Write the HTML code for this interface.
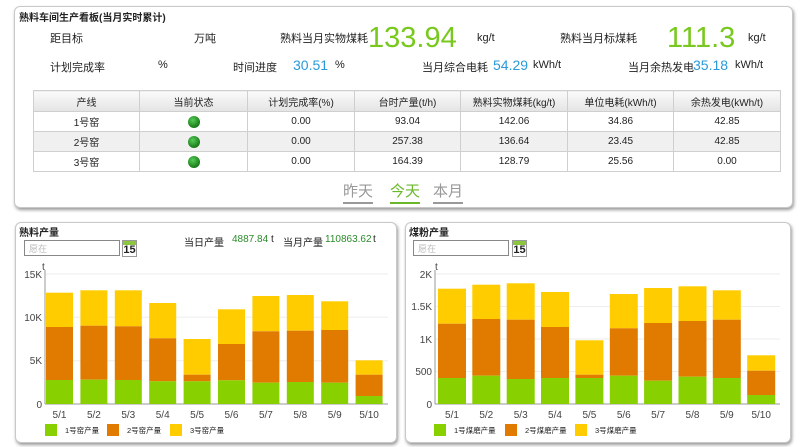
<!DOCTYPE html>
<html><head><meta charset="utf-8"><style>
body{margin:0;width:800px;height:447px;background:#fff;position:relative;overflow:hidden;font-family:"Liberation Sans","Noto Sans CJK SC",sans-serif;font-size:11px;color:#222}
.a{position:absolute;white-space:nowrap}
.panel{position:absolute;border:1px solid #c8c8c8;border-radius:6px;box-shadow:1px 2px 3px #999;background:#fff}
.big{font-size:29px;color:#78c81e}
.blue{color:#2a9ad8;font-size:14px}
table{position:absolute;left:33px;top:90px;width:747px;border-collapse:collapse;font-size:10px;table-layout:fixed}
td,th{border:1px solid #cfcfcf;height:19px;text-align:center;font-weight:normal;padding:0}
th{background:linear-gradient(#fafafa,#e4e4e4);height:20px}
tr.g td{background:#f0f0f0}
.dot{display:inline-block;width:12px;height:12px;border-radius:50%;background:radial-gradient(circle at 40% 35%,#5c5,#1a7a1a 70%);vertical-align:middle}
.tab{font-size:15px;color:#999;border-bottom:2px solid #999;padding-bottom:1px}
.inp{position:absolute;height:16px;border:1px solid #888;color:#bbb;font-size:9px;line-height:16px;padding-left:4px;box-sizing:border-box;width:96px}
.cal{position:absolute;width:15px;height:17px;border:1px solid #999;box-sizing:border-box;background:#fff;font-size:11px;font-weight:bold;text-align:center;line-height:19px}
.cal:before{content:"";position:absolute;left:0;top:0;right:0;height:4px;background:#8cc63f}
.gn{color:#2a8a2a}
.s10{font-size:10px}
</style></head><body>
<div class="panel" style="left:14px;top:6px;width:777px;height:200px"></div>
<div class="a" style="left:19px;top:9px;font-size:10px;font-weight:bold">熟料车间生产看板(当月实时累计)</div>
<div class="a" style="left:50px;top:30px">距目标</div>
<div class="a" style="left:194px;top:30px">万吨</div>
<div class="a" style="left:280px;top:30px">熟料当月实物煤耗</div>
<div class="a big" style="left:368px;top:22px">133.94</div>
<div class="a" style="left:477px;top:32px">kg/t</div>
<div class="a" style="left:560px;top:30px">熟料当月标煤耗</div>
<div class="a big" style="left:667px;top:22px">111.3</div>
<div class="a" style="left:748px;top:32px">kg/t</div>
<div class="a" style="left:50px;top:59px">计划完成率</div>
<div class="a" style="left:158px;top:59px">%</div>
<div class="a" style="left:233px;top:59px">时间进度</div>
<div class="a blue" style="left:293px;top:57px">30.51</div>
<div class="a" style="left:335px;top:59px">%</div>
<div class="a" style="left:422px;top:59px">当月综合电耗</div>
<div class="a blue" style="left:493px;top:57px">54.29</div>
<div class="a" style="left:533px;top:59px">kWh/t</div>
<div class="a" style="left:628px;top:59px">当月余热发电</div>
<div class="a blue" style="left:693px;top:57px">35.18</div>
<div class="a" style="left:735px;top:59px">kWh/t</div>
<table>
<colgroup><col style="width:106px"><col style="width:108px"><col style="width:107px"><col style="width:106px"><col style="width:107px"><col style="width:106px"><col style="width:107px"></colgroup>
<tr><th>产线</th><th>当前状态</th><th>计划完成率(%)</th><th>台时产量(t/h)</th><th>熟料实物煤耗(kg/t)</th><th>单位电耗(kWh/t)</th><th>余热发电(kWh/t)</th></tr>
<tr><td>1号窑</td><td><span class="dot"></span></td><td>0.00</td><td>93.04</td><td>142.06</td><td>34.86</td><td>42.85</td></tr>
<tr class="g"><td>2号窑</td><td><span class="dot"></span></td><td>0.00</td><td>257.38</td><td>136.64</td><td>23.45</td><td>42.85</td></tr>
<tr><td>3号窑</td><td><span class="dot"></span></td><td>0.00</td><td>164.39</td><td>128.79</td><td>25.56</td><td>0.00</td></tr>
</table>
<div class="a tab" style="left:343px;top:180px">昨天</div>
<div class="a tab" style="left:390px;top:180px;color:#6ab82a;border-color:#6ab82a">今天</div>
<div class="a tab" style="left:433px;top:180px">本月</div>

<div class="panel" style="left:15px;top:222px;width:380px;height:219px"></div>
<div class="panel" style="left:405px;top:222px;width:384px;height:219px"></div>
<div class="a" style="left:19px;top:224px;font-size:10px;font-weight:bold">熟料产量</div>
<div class="inp" style="left:24px;top:240px">愿在</div>
<div class="cal" style="left:122px;top:240px">15</div>
<div class="a s10" style="left:184px;top:234px">当日产量</div>
<div class="a gn s10" style="left:232px;top:234px">4887.84</div><div class="a s10" style="left:271px;top:234px">t</div>
<div class="a s10" style="left:283px;top:234px">当月产量</div>
<div class="a gn s10" style="left:325px;top:234px">110863.62</div><div class="a s10" style="left:373px;top:234px">t</div>
<div class="a" style="left:409px;top:224px;font-size:10px;font-weight:bold">煤粉产量</div>
<div class="inp" style="left:413px;top:240px">愿在</div>
<div class="cal" style="left:512px;top:240px">15</div>

<svg class="a" style="left:0;top:0" width="800" height="447" font-family="Liberation Sans,sans-serif" font-size="10" fill="#444">
<g stroke="#eee"><line x1="45" x2="388" y1="274" y2="274"/><line x1="45" x2="388" y1="317.3" y2="317.3"/><line x1="45" x2="388" y1="360.7" y2="360.7"/>
<line x1="435" x2="780" y1="274" y2="274"/><line x1="435" x2="780" y1="306.5" y2="306.5"/><line x1="435" x2="780" y1="339" y2="339"/><line x1="435" x2="780" y1="371.5" y2="371.5"/></g>
<g stroke="#999"><line x1="45" x2="45" y1="270" y2="404"/><line x1="45" x2="388" y1="404" y2="404"/><line x1="435" x2="435" y1="270" y2="404"/><line x1="435" x2="780" y1="404" y2="404"/></g>
<g text-anchor="end"><text x="42" y="278">15K</text><text x="42" y="321">10K</text><text x="42" y="364">5K</text><text x="42" y="408">0</text>
<text x="432" y="278">2K</text><text x="432" y="310">1.5K</text><text x="432" y="343">1K</text><text x="432" y="375">500</text><text x="432" y="408">0</text></g>
<text x="42" y="270">t</text><text x="435" y="270">t</text>
<g>
<rect x="46" y="292.7" width="27" height="34.3" fill="#ffcc00"/><rect x="46" y="327" width="27" height="53" fill="#e07b00"/><rect x="46" y="380" width="27" height="24" fill="#88d000"/>
<rect x="80.4" y="290.3" width="27" height="35.4" fill="#ffcc00"/><rect x="80.4" y="325.7" width="27" height="54" fill="#e07b00"/><rect x="80.4" y="379.7" width="27" height="24.3" fill="#88d000"/>
<rect x="114.8" y="290.3" width="27" height="36" fill="#ffcc00"/><rect x="114.8" y="326.3" width="27" height="53.7" fill="#e07b00"/><rect x="114.8" y="380" width="27" height="24" fill="#88d000"/>
<rect x="149.2" y="303" width="27" height="35.3" fill="#ffcc00"/><rect x="149.2" y="338.3" width="27" height="43" fill="#e07b00"/><rect x="149.2" y="381.3" width="27" height="22.7" fill="#88d000"/>
<rect x="183.6" y="339" width="27" height="35.7" fill="#ffcc00"/><rect x="183.6" y="374.7" width="27" height="6.6" fill="#e07b00"/><rect x="183.6" y="381.3" width="27" height="22.7" fill="#88d000"/>
<rect x="218" y="309.3" width="27" height="34.7" fill="#ffcc00"/><rect x="218" y="344" width="27" height="36.3" fill="#e07b00"/><rect x="218" y="380.3" width="27" height="23.7" fill="#88d000"/>
<rect x="252.4" y="296" width="27" height="35.3" fill="#ffcc00"/><rect x="252.4" y="331.3" width="27" height="51.4" fill="#e07b00"/><rect x="252.4" y="382.7" width="27" height="21.3" fill="#88d000"/>
<rect x="286.8" y="295" width="27" height="35.7" fill="#ffcc00"/><rect x="286.8" y="330.7" width="27" height="51.3" fill="#e07b00"/><rect x="286.8" y="382" width="27" height="22" fill="#88d000"/>
<rect x="321.2" y="301.3" width="27" height="28.7" fill="#ffcc00"/><rect x="321.2" y="330" width="27" height="52.7" fill="#e07b00"/><rect x="321.2" y="382.7" width="27" height="21.3" fill="#88d000"/>
<rect x="355.6" y="360.3" width="27" height="14.4" fill="#ffcc00"/><rect x="355.6" y="374.7" width="27" height="21.3" fill="#e07b00"/><rect x="355.6" y="396" width="27" height="8" fill="#88d000"/>
</g>
<g>
<rect x="438" y="288.7" width="28" height="35" fill="#ffcc00"/><rect x="438" y="323.7" width="28" height="54.3" fill="#e07b00"/><rect x="438" y="378" width="28" height="26" fill="#88d000"/>
<rect x="472.3" y="284.7" width="28" height="34.3" fill="#ffcc00"/><rect x="472.3" y="319" width="28" height="56.7" fill="#e07b00"/><rect x="472.3" y="375.7" width="28" height="28.3" fill="#88d000"/>
<rect x="506.7" y="283.3" width="28" height="36.4" fill="#ffcc00"/><rect x="506.7" y="319.7" width="28" height="59.3" fill="#e07b00"/><rect x="506.7" y="379" width="28" height="25" fill="#88d000"/>
<rect x="541" y="292" width="28" height="35" fill="#ffcc00"/><rect x="541" y="327" width="28" height="51" fill="#e07b00"/><rect x="541" y="378" width="28" height="26" fill="#88d000"/>
<rect x="575.4" y="340.3" width="28" height="34.4" fill="#ffcc00"/><rect x="575.4" y="374.7" width="28" height="3.3" fill="#e07b00"/><rect x="575.4" y="378" width="28" height="26" fill="#88d000"/>
<rect x="609.8" y="294" width="28" height="34.3" fill="#ffcc00"/><rect x="609.8" y="328.3" width="28" height="47.4" fill="#e07b00"/><rect x="609.8" y="375.7" width="28" height="28.3" fill="#88d000"/>
<rect x="644.1" y="288" width="28" height="35" fill="#ffcc00"/><rect x="644.1" y="323" width="28" height="57.7" fill="#e07b00"/><rect x="644.1" y="380.7" width="28" height="23.3" fill="#88d000"/>
<rect x="678.5" y="286.3" width="28" height="34.7" fill="#ffcc00"/><rect x="678.5" y="321" width="28" height="55.7" fill="#e07b00"/><rect x="678.5" y="376.7" width="28" height="27.3" fill="#88d000"/>
<rect x="712.8" y="290.3" width="28" height="29.4" fill="#ffcc00"/><rect x="712.8" y="319.7" width="28" height="58.3" fill="#e07b00"/><rect x="712.8" y="378" width="28" height="26" fill="#88d000"/>
<rect x="747.2" y="355.3" width="28" height="15.4" fill="#ffcc00"/><rect x="747.2" y="370.7" width="28" height="24.3" fill="#e07b00"/><rect x="747.2" y="395" width="28" height="9" fill="#88d000"/>
</g>
<g text-anchor="middle">
<text x="59.5" y="418">5/1</text><text x="93.9" y="418">5/2</text><text x="128.3" y="418">5/3</text><text x="162.7" y="418">5/4</text><text x="197.1" y="418">5/5</text><text x="231.5" y="418">5/6</text><text x="265.9" y="418">5/7</text><text x="300.3" y="418">5/8</text><text x="334.7" y="418">5/9</text><text x="369.1" y="418">5/10</text>
<text x="452" y="418">5/1</text><text x="486.3" y="418">5/2</text><text x="520.7" y="418">5/3</text><text x="555" y="418">5/4</text><text x="589.4" y="418">5/5</text><text x="623.8" y="418">5/6</text><text x="658.1" y="418">5/7</text><text x="692.5" y="418">5/8</text><text x="726.8" y="418">5/9</text><text x="761.2" y="418">5/10</text>
</g>
<g style="font-family:'Liberation Sans','Noto Sans CJK SC',sans-serif" font-size="7.5" fill="#222">
<rect x="45" y="424" width="12" height="12" fill="#88d000"/><text x="65" y="433">1号窑产量</text>
<rect x="107" y="424" width="12" height="12" fill="#e07b00"/><text x="127" y="433">2号窑产量</text>
<rect x="170" y="424" width="12" height="12" fill="#ffcc00"/><text x="190" y="433">3号窑产量</text>
<rect x="434" y="424" width="12" height="12" fill="#88d000"/><text x="454" y="433">1号煤磨产量</text>
<rect x="505" y="424" width="12" height="12" fill="#e07b00"/><text x="525" y="433">2号煤磨产量</text>
<rect x="575" y="424" width="12" height="12" fill="#ffcc00"/><text x="595" y="433">3号煤磨产量</text>
</g>
</svg>
</body></html>
